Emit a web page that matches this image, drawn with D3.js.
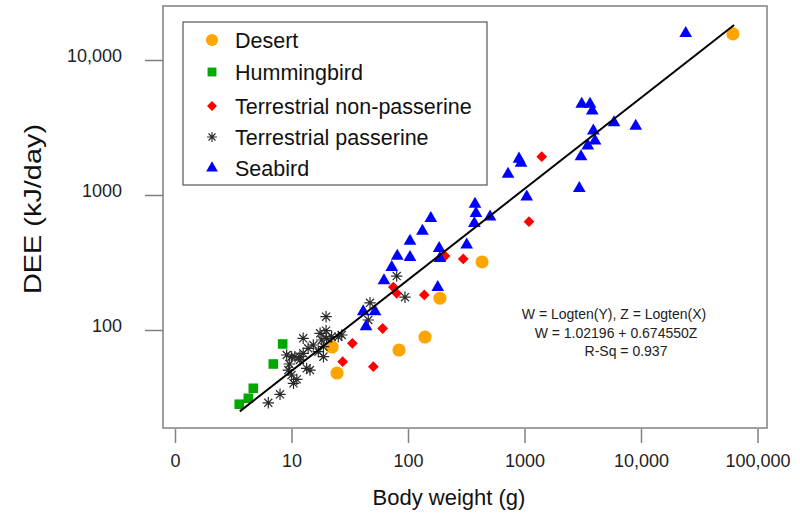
<!DOCTYPE html>
<html>
<head>
<meta charset="utf-8">
<script src="https://cdn.jsdelivr.net/npm/d3@7"></script>
<style>
  body { margin: 0; background: #fff; }
  svg { font-family: "Liberation Sans", Arial, sans-serif; }
</style>
</head>
<body>
<script>
// body weight (g) and DEE (kJ/day)
var desertX = [22.3, 24.6, 83.7, 140, 188, 432, 61600];
var desertY = [74.8, 48.0, 71.1, 88.7, 172, 319, 15600];

var hummX = [8.4, 6.98, 4.70, 4.26, 3.56];
var hummY = [78.8, 56.0, 37.0, 31.2, 28.2];

var nonPassX = [27.5, 33.3, 50.4, 60.6, 74.8, 80.0, 138, 208, 298, 1093, 1406];
var nonPassY = [58.2, 79.7, 53.5, 102.6, 208, 187, 182, 353, 336, 634, 1923];

var passX = [19.8, 6.32, 7.97, 10.4, 11.1, 9.39, 10.0, 9.09, 10.7, 11.8, 12.6, 13.9, 15.4, 17.6, 19.8, 18.2, 17.0,
             18.8, 20.0, 22.1, 25.2, 27.0, 13.5, 14.4, 18.8, 12.6, 10.0, 47.2, 45.6, 80.0, 94.2, 11.8, 9.58];
var passY = [125.5, 28.9, 33.4, 40.3, 43.1, 50.5, 46.4, 65.3, 63.4, 63.4, 86.8, 73.2, 77.4, 94.5, 98.8, 84.3, 69.1,
             63.4, 86.8, 89.2, 89.2, 91.8, 52.0, 50.5, 75.2, 67.2, 63.4, 159, 118.6, 251, 175, 60.0, 56.0];

var seaX = [41.3, 52.1, 43.6, 62.2, 72.5, 80.9, 104, 104, 133, 157, 185, 188, 180, 319, 376, 383, 371, 506,
            722, 897, 933, 1045, 2954, 3055, 3490, 4030, 3898, 3098, 3650, 3818, 5863, 9010, 24190];
var seaY = [136.7, 136.7, 105.8, 232, 291, 353, 456, 346, 541, 672, 403, 340, 207, 427, 858, 731, 617, 690,
            1431, 1849, 1726, 971, 1122, 1923, 2318, 2524, 2993, 4718, 4718, 4210, 3432, 3245, 15780];

var xTicks = [1, 10, 100, 1000, 10000, 100000];
var xTickLabels = ['0', '10', '100', '1000', '10,000', '100,000'];
var yTicks = [100, 1000, 10000];
var yTickLabels = ['100', '1000', '10,000'];

var groupNames = ['Desert', 'Hummingbird', 'Terrestrial non-passerine', 'Terrestrial passerine', 'Seabird'];

// W = Logten(Y), Z = Logten(X)
var fitIntercept = 1.02196;
var fitSlope = 0.674550;
var fitRange = [3.6, 63000];
var fitText = ['W = Logten(Y), Z = Logten(X)', 'W = 1.02196 + 0.674550Z', 'R-Sq = 0.937'];

var w = 800, h = 514;

var svg = d3.select('body').append('svg')
    .attr('width', w)
    .attr('height', h);

var x = d3.scaleLog().domain([1, 100000]).range([175, 757.5]);
var y = d3.scaleLog().domain([100, 10000]).range([330, 60]);

// plot frame
svg.append('rect')
    .attr('x', 163).attr('y', 6)
    .attr('width', 604).attr('height', 422)
    .attr('fill', 'none')
    .attr('stroke', '#808080')
    .attr('stroke-width', 1.5);

var xAxis = svg.append('g')
    .attr('transform', 'translate(0,429)')
    .call(d3.axisBottom(x)
        .tickValues(xTicks)
        .tickFormat(function(d, i) { return xTickLabels[i]; })
        .tickSize(14)
        .tickPadding(11));

var yAxis = svg.append('g')
    .attr('transform', 'translate(163,0)')
    .call(d3.axisLeft(y)
        .tickValues(yTicks)
        .tickFormat(function(d, i) { return yTickLabels[i]; })
        .tickSize(18)
        .tickPadding(23));

[xAxis, yAxis].forEach(function(a) {
    a.select('.domain').remove();
    a.selectAll('line').attr('stroke', '#808080').attr('stroke-width', 1.5);
    a.selectAll('text')
        .attr('fill', '#222')
        .style('font-size', '18px')
        .style('font-family', '"Liberation Sans", Arial, sans-serif');
});
yAxis.selectAll('text').attr('dy', '0.06em');

svg.append('text')
    .attr('x', 449).attr('y', 505)
    .attr('text-anchor', 'middle')
    .style('font-size', '22px')
    .attr('fill', '#111')
    .text('Body weight (g)');

svg.append('text')
    .attr('transform', 'translate(41,209) rotate(-90)')
    .attr('text-anchor', 'middle')
    .style('font-size', '24px')
    .attr('textLength', 170)
    .attr('lengthAdjust', 'spacingAndGlyphs')
    .attr('fill', '#111')
    .text('DEE (kJ/day)');

// 8 armed star like R pch 8
var symbolStar8 = {
    draw: function(ctx, size) {
        var r = Math.sqrt(size) / 2;
        var d = r * Math.SQRT1_2;
        ctx.moveTo(-r, 0); ctx.lineTo(r, 0);
        ctx.moveTo(0, -r); ctx.lineTo(0, r);
        ctx.moveTo(-d, -d); ctx.lineTo(d, d);
        ctx.moveTo(-d, d); ctx.lineTo(d, -d);
    }
};

var styles = [
    { type: d3.symbolCircle, size: 135, fill: '#FFA500', rot: 0 },
    { type: d3.symbolSquare, size: 92, fill: '#00A800', rot: 0 },
    { type: d3.symbolSquare, size: 58, fill: '#FF0000', rot: 45 },
    { type: symbolStar8, size: 130, stroke: '#2a2a2a', rot: 0 },
    { type: d3.symbolTriangle, size: 70, fill: '#0000FF', rot: 0 }
];

function zip(xs, ys) {
    return xs.map(function(v, i) { return { x: v, y: ys[i] }; });
}

var groups = [zip(desertX, desertY), zip(hummX, hummY), zip(nonPassX, nonPassY),
              zip(passX, passY), zip(seaX, seaY)];

groups.forEach(function(data, gi) {
    var s = styles[gi];
    svg.append('g').selectAll('path')
        .data(data)
        .enter()
        .append('path')
        .attr('d', d3.symbol().type(s.type).size(s.size))
        .attr('transform', function(d) {
            return 'translate(' + x(d.x) + ',' + y(d.y) + ') rotate(' + s.rot + ')';
        })
        .attr('fill', s.fill || 'none')
        .attr('stroke', s.stroke || 'none')
        .attr('stroke-width', 1.2);
});

// regression line
var fitLine = d3.line()
    .x(function(d) { return x(d); })
    .y(function(d) { return y(Math.pow(10, fitIntercept + fitSlope * Math.log10(d))); });

svg.append('path')
    .attr('d', fitLine(fitRange))
    .attr('stroke', '#000')
    .attr('stroke-width', 2)
    .attr('fill', 'none');

var fitX = [614, 616, 626];
var fitY = [319, 338, 356];
svg.append('g').selectAll('text')
    .data(fitText)
    .enter()
    .append('text')
    .attr('x', function(d, i) { return fitX[i]; })
    .attr('y', function(d, i) { return fitY[i]; })
    .attr('text-anchor', 'middle')
    .style('font-size', '14px')
    .attr('fill', '#222')
    .text(function(d) { return d; });

// legend
var legend = svg.append('g');
legend.append('rect')
    .attr('x', 183).attr('y', 22)
    .attr('width', 304).attr('height', 163)
    .attr('fill', '#fff')
    .attr('stroke', '#555')
    .attr('stroke-width', 1.2);

var legendY = [40, 72, 106, 137, 168];
var rows = legend.selectAll('g.row')
    .data(groupNames)
    .enter()
    .append('g')
    .attr('class', 'row')
    .attr('transform', function(d, i) { return 'translate(0,' + legendY[i] + ')'; });

rows.append('path')
    .attr('d', function(d, i) {
        return d3.symbol().type(styles[i].type).size(styles[i].size * (i === 3 ? 0.75 : 0.85))();
    })
    .attr('transform', function(d, i) { return 'translate(212,0) rotate(' + styles[i].rot + ')'; })
    .attr('fill', function(d, i) { return styles[i].fill || 'none'; })
    .attr('stroke', function(d, i) { return styles[i].stroke || 'none'; })
    .attr('stroke-width', 1.1);

rows.append('text')
    .attr('x', 235)
    .attr('y', 7.5)
    .style('font-size', '21.5px')
    .attr('fill', '#111')
    .text(function(d) { return d; });
</script>
</body>
</html>
